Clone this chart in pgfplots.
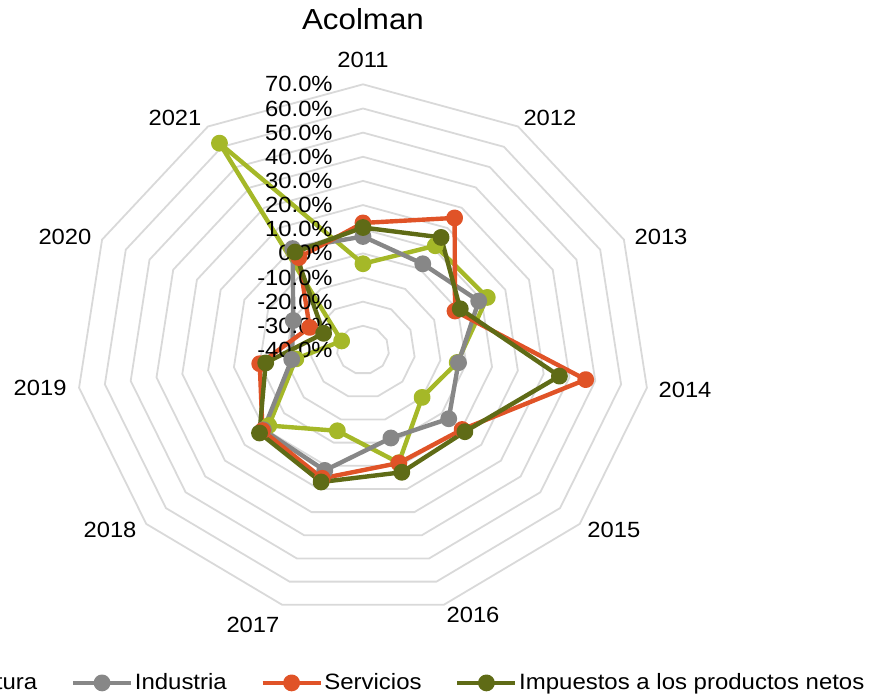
\documentclass[border=0pt]{standalone}
\usepackage{fontspec}
\setmainfont{Liberation Sans}
\usepackage{graphicx}
\usepackage{pgfplots}
\usepackage{pgfplotstable}
\pgfplotsset{compat=1.18}

\definecolor{cAgr}{HTML}{A5B828}
\definecolor{cInd}{HTML}{878787}
\definecolor{cSer}{HTML}{E05327}
\definecolor{cImp}{HTML}{5F6B16}
\definecolor{cGrid}{HTML}{D9D9D9}

% k = category index (2011 at top, clockwise); values in percent
\pgfplotstableread{
k year agr ind ser imp
0 2011 -4.3 7.0 12.6 10.7
1 2012 11.3 2.4 25.0 15.4
2 2013 12.4 8.8 -1.2 1.0
3 2014 -3.5 -3.0 46.3 36.1
4 2015 -10.0 3.5 10.3 11.7
5 2016 8.7 -2.0 8.8 12.8
6 2017 -5.1 12.0 15.4 17.0
7 2018 7.8 10.5 11.0 12.5
8 2019 -14.0 -12.4 0.0 -2.3
9 2020 -31.0 -10.6 -17.5 -23.4
10 2021 61.8 9.9 5.5 8.2
11 2011 -4.3 7.0 12.6 10.7
}\data

\newcommand\sx[1]{\scalebox{1.08}[1]{#1}}
\newcommand\lblfont{\fontsize{11}{12}\selectfont}

\begin{document}
\begin{tikzpicture}
\begin{axis}[
  x=1.304pt, y=1.2075pt,
  xmin=-139.2, xmax=197.5, ymin=-144.93, ymax=144.93,
  hide axis, clip=false,
  legend columns=4,
  legend style={at={(0.9863,0.0243)}, anchor=east, draw=none, fill=none,
    inner sep=0pt, outer sep=0pt, font=\fontsize{11.1}{12}\selectfont,
    nodes={inner sep=0.8pt},
    /tikz/every even column/.append style={column sep=16pt}},
  legend image code/.code={\draw[#1, mark indices={2}] plot coordinates {(0pt,0pt) (14.5pt,0pt) (29pt,0pt)};},
  every axis plot/.append style={line width=2.2pt, line join=round, mark=*, mark size=3.1pt, mark options={solid}, mark indices={1,...,11}},
]
% grid rings (-30% ... 70%)
\pgfplotsinvokeforeach{10,20,...,110}{
  \draw[cGrid, line width=0.9pt] (axis cs:0,#1) \foreach \k in {1,...,10}{ -- (axis cs:{#1*sin(\k*360/11)},{#1*cos(\k*360/11)})} -- cycle;
}
\addplot[cAgr] table[x expr={(\thisrow{agr}+40)*sin(\thisrow{k}*360/11)}, y expr={(\thisrow{agr}+40)*cos(\thisrow{k}*360/11)}]{\data};
\addplot[cInd] table[x expr={(\thisrow{ind}+40)*sin(\thisrow{k}*360/11)}, y expr={(\thisrow{ind}+40)*cos(\thisrow{k}*360/11)}]{\data};
\addplot[cSer] table[x expr={(\thisrow{ser}+40)*sin(\thisrow{k}*360/11)}, y expr={(\thisrow{ser}+40)*cos(\thisrow{k}*360/11)}]{\data};
\addplot[cImp] table[x expr={(\thisrow{imp}+40)*sin(\thisrow{k}*360/11)}, y expr={(\thisrow{imp}+40)*cos(\thisrow{k}*360/11)}]{\data};
\legend{\sx{Agricultura},\sx{Industria},\sx{Servicios},\sx{Impuestos a los productos netos}}

% radial tick labels
\pgfplotsinvokeforeach{-40,-30,...,70}{
  \node[anchor=east, inner sep=0pt, font=\lblfont] at (axis cs:-11.5,{#1+40}) {\sx{#1.0\%}};
}
% category labels
\node[font=\lblfont] at (axis cs:0,120.1) {\sx{2011}};
\node[font=\lblfont] at (axis cs:71.7,96.1) {\sx{2012}};
\node[font=\lblfont] at (axis cs:114.3,46.8) {\sx{2013}};
\node[font=\lblfont] at (axis cs:123.5,-16.6) {\sx{2014}};
\node[font=\lblfont] at (axis cs:96.2,-74.5) {\sx{2015}};
\node[font=\lblfont] at (axis cs:42.2,-109.7) {\sx{2016}};
\node[font=\lblfont] at (axis cs:-42.2,-113.9) {\sx{2017}};
\node[font=\lblfont] at (axis cs:-97.0,-74.5) {\sx{2018}};
\node[font=\lblfont] at (axis cs:-123.8,-15.7) {\sx{2019}};
\node[font=\lblfont] at (axis cs:-114.3,46.8) {\sx{2020}};
\node[font=\lblfont] at (axis cs:-72.1,96.1) {\sx{2021}};
% title
\node[font=\fontsize{14.5}{16}\selectfont] at (axis cs:0,137.1) {\sx{Acolman}};
\end{axis}
\pgfresetboundingbox
\path[use as bounding box] (current axis.south west) rectangle (current axis.north east);
\end{tikzpicture}
\end{document}
